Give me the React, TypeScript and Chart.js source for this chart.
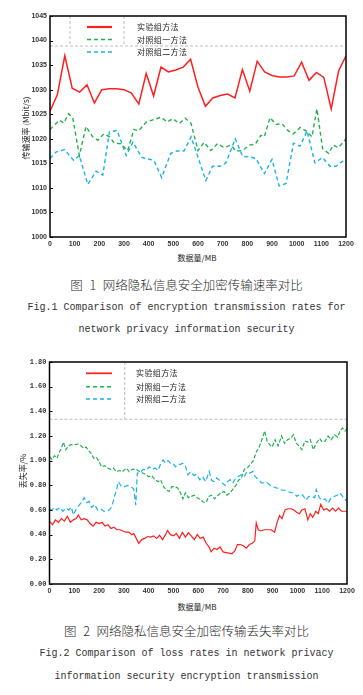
import React, { useEffect, useRef } from 'react';
import { Chart, registerables } from 'chart.js';
Chart.register(...registerables);

// ---------- Chart 1: transmission rate (Mbit/s) ----------
const rateTickLabels = ['1000', '1005', '1010', '1015', '1020', '1025', '1030', '1035', '1040', '1045'];
const expRateX = [0, 30, 60, 90, 120, 150, 180, 210, 240, 270, 300, 330, 360, 390, 420, 450, 480, 510, 540, 570, 600, 630, 660, 690, 720, 750, 780, 810, 840, 870, 900, 930, 960, 990, 1020, 1050, 1080, 1110, 1140, 1170, 1200];
const expRate = [1025.6, 1029.0, 1036.9, 1030.3, 1029.5, 1031.0, 1027.3, 1030.0, 1030.2, 1030.2, 1030.0, 1029.3, 1027.1, 1033.3, 1028.7, 1034.6, 1033.6, 1034.0, 1034.6, 1036.2, 1030.5, 1026.6, 1028.3, 1028.8, 1029.1, 1028.3, 1034.1, 1029.7, 1035.8, 1033.6, 1032.9, 1032.6, 1032.6, 1032.8, 1035.6, 1031.9, 1033.5, 1032.5, 1026.1, 1033.8, 1036.9];
const ctl1RateX = [0, 38, 56, 75, 92, 119, 146, 173, 194, 218, 241, 261, 286, 315, 340, 359, 390, 451, 475, 498, 525, 548, 572, 600, 625, 652, 679, 706, 733, 754, 781, 808, 832, 855, 869, 892, 916, 940, 964, 987, 1014, 1038, 1062, 1082, 1105, 1130, 1148, 1170, 1200];
const ctl1Rate = [1021.9, 1023.8, 1023.2, 1025.1, 1024.3, 1016.6, 1022.5, 1020.4, 1019.7, 1021.0, 1020.4, 1019.1, 1019.0, 1017.6, 1021.9, 1021.6, 1023.4, 1024.4, 1023.4, 1024.1, 1023.1, 1024.2, 1023.1, 1017.6, 1019.3, 1017.6, 1019.0, 1018.2, 1018.7, 1017.5, 1017.6, 1018.7, 1018.9, 1020.7, 1020.4, 1024.3, 1022.9, 1023.1, 1021.7, 1021.0, 1022.3, 1021.6, 1020.4, 1026.1, 1018.0, 1017.0, 1018.7, 1018.2, 1020.0];
const ctl2RateX = [0, 24, 58, 96, 119, 153, 187, 214, 241, 272, 309, 336, 372, 421, 453, 489, 512, 543, 572, 632, 659, 689, 713, 751, 781, 811, 835, 869, 900, 929, 957, 987, 1014, 1042, 1074, 1105, 1135, 1159, 1200];
const ctl2Rate = [1016.0, 1017.3, 1017.8, 1015.6, 1016.6, 1010.7, 1013.4, 1012.6, 1021.4, 1021.7, 1016.6, 1019.3, 1016.2, 1015.6, 1012.1, 1017.0, 1017.5, 1017.5, 1020.4, 1011.5, 1014.4, 1014.4, 1015.1, 1020.0, 1016.4, 1016.3, 1016.0, 1012.9, 1015.8, 1010.4, 1010.9, 1019.1, 1018.5, 1021.6, 1015.1, 1016.2, 1014.4, 1014.4, 1015.9];

// ---------- Chart 2: loss rate (%) ----------
const lossTickLabels = ['0.00', '0.20', '0.40', '0.60', '0.80', '1.00', '1.20', '1.40', '1.60', '1.80'];
const expLossX = [0, 12, 24, 36, 48, 60, 72, 84, 96, 108, 116, 128, 140, 152, 164, 176, 188, 200, 212, 224, 236, 248, 260, 272, 284, 296, 308, 320, 332, 340, 350, 360, 372, 384, 396, 408, 420, 432, 444, 456, 468, 476, 488, 500, 512, 524, 536, 548, 560, 572, 584, 596, 608, 620, 632, 644, 652, 664, 676, 688, 700, 712, 724, 736, 748, 758, 770, 782, 794, 806, 818, 828, 834, 842, 852, 866, 880, 894, 908, 918, 928, 938, 950, 962, 974, 986, 998, 1008, 1018, 1030, 1042, 1052, 1062, 1074, 1084, 1094, 1106, 1118, 1130, 1142, 1154, 1166, 1178, 1190, 1200];
const expLoss = [0.51, 0.48, 0.52, 0.50, 0.53, 0.51, 0.55, 0.50, 0.52, 0.53, 0.56, 0.52, 0.53, 0.52, 0.49, 0.47, 0.50, 0.49, 0.50, 0.47, 0.48, 0.45, 0.46, 0.44, 0.44, 0.43, 0.42, 0.42, 0.40, 0.41, 0.37, 0.33, 0.36, 0.37, 0.385, 0.38, 0.39, 0.37, 0.395, 0.36, 0.40, 0.435, 0.40, 0.39, 0.41, 0.37, 0.42, 0.38, 0.415, 0.39, 0.36, 0.40, 0.37, 0.38, 0.33, 0.30, 0.26, 0.29, 0.28, 0.30, 0.26, 0.255, 0.25, 0.245, 0.27, 0.32, 0.32, 0.31, 0.29, 0.32, 0.33, 0.35, 0.495, 0.44, 0.43, 0.44, 0.44, 0.44, 0.42, 0.50, 0.555, 0.53, 0.60, 0.61, 0.61, 0.60, 0.58, 0.57, 0.60, 0.61, 0.52, 0.57, 0.54, 0.59, 0.57, 0.645, 0.60, 0.61, 0.59, 0.615, 0.59, 0.615, 0.59, 0.59, 0.59];
const ctl1LossX = [0, 10, 20, 30, 40, 48, 56, 66, 76, 88, 100, 115, 128, 138, 148, 158, 168, 178, 188, 198, 210, 222, 234, 246, 258, 270, 282, 294, 310, 322, 334, 350, 364, 376, 390, 400, 412, 424, 438, 448, 460, 470, 482, 494, 504, 516, 528, 538, 548, 560, 572, 584, 596, 608, 620, 632, 642, 654, 666, 680, 692, 704, 716, 728, 740, 752, 762, 774, 786, 798, 810, 822, 834, 846, 858, 868, 878, 888, 898, 910, 922, 936, 948, 960, 972, 984, 996, 1006, 1018, 1030, 1042, 1052, 1064, 1076, 1090, 1100, 1112, 1124, 1136, 1150, 1162, 1172, 1182, 1192, 1200];
const ctl1Loss = [1.035, 1.01, 1.04, 1.02, 1.07, 1.10, 1.15, 1.09, 1.12, 1.13, 1.13, 1.135, 1.12, 1.10, 1.11, 1.08, 1.06, 1.02, 1.03, 1.00, 0.95, 0.96, 0.94, 0.93, 0.94, 0.91, 0.92, 0.91, 0.94, 0.91, 0.93, 0.93, 0.91, 0.90, 0.886, 0.87, 0.88, 0.85, 0.83, 0.845, 0.79, 0.765, 0.75, 0.79, 0.79, 0.78, 0.74, 0.69, 0.74, 0.70, 0.71, 0.72, 0.70, 0.685, 0.665, 0.66, 0.71, 0.72, 0.69, 0.72, 0.74, 0.75, 0.72, 0.74, 0.77, 0.80, 0.84, 0.86, 0.93, 0.94, 0.97, 1.00, 1.07, 1.11, 1.18, 1.24, 1.16, 1.13, 1.11, 1.17, 1.12, 1.20, 1.14, 1.17, 1.18, 1.21, 1.14, 1.12, 1.09, 1.16, 1.15, 1.17, 1.09, 1.14, 1.18, 1.15, 1.16, 1.20, 1.17, 1.21, 1.19, 1.24, 1.265, 1.24, 1.26];
const ctl2LossX = [0, 10, 20, 30, 42, 54, 66, 78, 88, 96, 106, 116, 128, 140, 150, 160, 170, 182, 194, 206, 218, 230, 242, 252, 262, 270, 278, 290, 302, 316, 328, 340, 348, 354, 366, 378, 390, 402, 414, 426, 438, 448, 458, 468, 478, 488, 498, 508, 518, 528, 538, 548, 558, 570, 582, 594, 606, 618, 630, 644, 654, 664, 674, 686, 696, 708, 718, 728, 740, 752, 762, 774, 786, 796, 808, 820, 830, 842, 854, 866, 878, 890, 902, 914, 926, 938, 950, 962, 974, 986, 998, 1010, 1022, 1034, 1046, 1058, 1070, 1076, 1088, 1100, 1112, 1124, 1136, 1148, 1160, 1170, 1182, 1194, 1200];
const ctl2Loss = [0.61, 0.60, 0.62, 0.60, 0.62, 0.59, 0.615, 0.60, 0.625, 0.56, 0.60, 0.63, 0.66, 0.70, 0.66, 0.67, 0.62, 0.645, 0.60, 0.61, 0.59, 0.59, 0.60, 0.63, 0.71, 0.76, 0.83, 0.79, 0.79, 0.80, 0.79, 0.77, 0.64, 0.90, 0.90, 0.93, 0.92, 0.95, 0.93, 0.94, 0.92, 0.975, 1.005, 0.98, 1.00, 0.98, 0.98, 0.95, 0.97, 0.97, 0.98, 0.96, 0.886, 0.91, 0.88, 0.89, 0.846, 0.87, 0.83, 0.913, 0.84, 0.83, 0.86, 0.84, 0.82, 0.80, 0.83, 0.846, 0.82, 0.86, 0.873, 0.886, 0.87, 0.91, 0.90, 0.913, 0.87, 0.85, 0.82, 0.82, 0.82, 0.80, 0.79, 0.78, 0.775, 0.76, 0.76, 0.75, 0.74, 0.74, 0.71, 0.73, 0.72, 0.68, 0.71, 0.71, 0.70, 0.765, 0.70, 0.68, 0.69, 0.655, 0.70, 0.71, 0.72, 0.74, 0.71, 0.68, 0.69];

const xTickLabels = ['0', '100', '200', '300', '400', '500', '600', '700', '800', '900', '1000', '1100', '1200'];
const seriesNames = ['实验组方法', '对照组一方法', '对照组二方法'];

const RED = '#ff1f1f';
const GREEN = '#22b14c';
const BLUE = '#19b2ea';

const pts = (xs: number[], ys: number[]) => xs.map((x, i) => ({ x, y: ys[i] }));

type Decor = {
  vLines: number[];
  hLineY: number;
  rows: number[];
  sampleX: [number, number];
  textX: number;
};

function decorPlugin(d: Decor, widths: number[]) {
  const styles = [
    { color: RED, dash: [] as number[], width: 2.2 },
    { color: GREEN, dash: [4, 3], width: 1.5 },
    { color: BLUE, dash: [4, 3], width: 1.5 },
  ];
  return {
    id: 'decor',
    beforeDatasetsDraw(chart: any) {
      const { ctx, chartArea: a } = chart;
      ctx.save();
      ctx.strokeStyle = '#bdbdbd';
      ctx.lineWidth = 1;
      ctx.setLineDash([3, 2]);
      ctx.beginPath();
      ctx.moveTo(a.left, d.hLineY);
      ctx.lineTo(a.right, d.hLineY);
      d.vLines.forEach((x) => {
        ctx.moveTo(x, a.top);
        ctx.lineTo(x, d.hLineY);
      });
      ctx.stroke();
      ctx.restore();
    },
    afterDatasetsDraw(chart: any) {
      const { ctx, chartArea: a } = chart;
      ctx.save();
      const ys = chart.scales.y;
      ctx.strokeStyle = '#000';
      ctx.lineWidth = 1;
      ctx.setLineDash([]);
      ctx.beginPath();
      ys.ticks.forEach((t: any) => {
        const py = Math.round(ys.getPixelForValue(t.value)) + 0.5;
        ctx.moveTo(a.left, py);
        ctx.lineTo(a.left + 3, py);
      });
      ctx.stroke();
      ctx.lineWidth = 1.5;
      ctx.strokeRect(a.left, a.top, a.right - a.left, a.bottom - a.top);
      seriesNames.forEach((name, i) => {
        const s = styles[i];
        ctx.strokeStyle = s.color;
        ctx.lineWidth = s.width * widths[i];
        ctx.setLineDash(s.dash);
        ctx.beginPath();
        ctx.moveTo(d.sampleX[0], d.rows[i]);
        ctx.lineTo(d.sampleX[1], d.rows[i]);
        ctx.stroke();
        ctx.setLineDash([]);
        ctx.fillStyle = '#222';
        ctx.font = '8px "Noto Sans CJK SC"';
        (ctx as any).letterSpacing = '0.4px';
        ctx.textBaseline = 'middle';
        ctx.textAlign = 'left';
        ctx.fillText(name, d.textX, d.rows[i]);
      });
      ctx.restore();
    },
  };
}

function makeConfig(opts: {
  datasets: any[];
  yMin: number;
  yMax: number;
  yStep: number;
  yLabels: string[];
  yWidth: number;
  xHeight: number;
  padTop: number;
  padRight: number;
  yFont: any;
  decor: Decor;
  legendWidths: number[];
}) {
  return {
    type: 'line' as const,
    data: { datasets: opts.datasets },
    plugins: [decorPlugin(opts.decor, opts.legendWidths)],
    options: {
      animation: false as const,
      responsive: false,
      devicePixelRatio: 1,
      layout: { padding: { left: 0, right: opts.padRight, top: opts.padTop, bottom: 0 } },
      plugins: { legend: { display: false }, tooltip: { enabled: false } },
      elements: { point: { radius: 0 }, line: { tension: 0 } },
      scales: {
        x: {
          type: 'linear' as const,
          min: 0,
          max: 1200,
          ticks: {
            stepSize: 100,
            autoSkip: false,
            maxRotation: 0,
            padding: 3,
            color: '#333',
            font: { family: 'Liberation Sans', size: 7, weight: 'bold' as const },
            callback: (v: number) => xTickLabels[Math.round(v / 100)] ?? '',
          },
          grid: { display: false, drawTicks: false, tickLength: 0 },
          border: { display: false },
          afterFit: (s: any) => {
            s.height = opts.xHeight;
          },
        },
        y: {
          type: 'linear' as const,
          min: opts.yMin,
          max: opts.yMax,
          ticks: {
            stepSize: opts.yStep,
            autoSkip: false,
            padding: 3,
            color: '#333',
            font: opts.yFont,
            callback: (v: number) => opts.yLabels[Math.round((v - opts.yMin) / opts.yStep)] ?? '',
          },
          grid: { display: false, drawTicks: false, tickLength: 0 },
          border: { display: false },
          afterFit: (s: any) => {
            s.width = opts.yWidth;
          },
        },
      },
    },
  };
}

const txt = (extra: React.CSSProperties): React.CSSProperties => ({
  position: 'absolute',
  whiteSpace: 'pre',
  lineHeight: 1,
  transform: 'translate(-50%, -50%)',
  ...extra,
});

export default function App() {
  const c1 = useRef<HTMLCanvasElement>(null);
  const c2 = useRef<HTMLCanvasElement>(null);

  useEffect(() => {
    const ch1 = new Chart(
      c1.current!,
      makeConfig({
        datasets: [
          { data: pts(expRateX, expRate), borderColor: RED, borderWidth: 1.5, fill: false },
          { data: pts(ctl1RateX, ctl1Rate), borderColor: GREEN, borderWidth: 1.4, borderDash: [4, 3], fill: false },
          { data: pts(ctl2RateX, ctl2Rate), borderColor: BLUE, borderWidth: 1.4, borderDash: [4, 3], fill: false },
        ],
        yMin: 1000,
        yMax: 1045,
        yStep: 5,
        yLabels: rateTickLabels,
        yWidth: 50,
        xHeight: 13,
        padTop: 16,
        padRight: 17,
        yFont: { family: 'Liberation Sans', size: 7, weight: 'bold' },
        decor: { vLines: [70, 124], hLineY: 46, rows: [27, 39.5, 52], sampleX: [87, 112], textX: 137 },
        legendWidths: [1, 1, 1],
      }) as any
    );
    const ch2 = new Chart(
      c2.current!,
      makeConfig({
        datasets: [
          { data: pts(expLossX, expLoss), borderColor: RED, borderWidth: 1.2, fill: false },
          { data: pts(ctl1LossX, ctl1Loss), borderColor: GREEN, borderWidth: 1.2, borderDash: [4, 2], fill: false },
          { data: pts(ctl2LossX, ctl2Loss), borderColor: BLUE, borderWidth: 1.2, borderDash: [5, 3], fill: false },
        ],
        yMin: 0,
        yMax: 1.8,
        yStep: 0.2,
        yLabels: lossTickLabels,
        yWidth: 49.5,
        xHeight: 13,
        padTop: 12,
        padRight: 16,
        yFont: { family: 'Liberation Mono', size: 7, weight: 'bold' },
        decor: { vLines: [124.7], hLineY: 69.3, rows: [23.3, 36.7, 49], sampleX: [86, 112], textX: 136 },
        legendWidths: [0.8, 0.9, 0.9],
      }) as any
    );
    return () => {
      ch1.destroy();
      ch2.destroy();
    };
  }, []);

  const cjk = '"Noto Sans CJK SC", sans-serif';
  const mono = '"Liberation Mono", monospace';

  return (
    <div style={{ position: 'absolute', left: 0, top: 0, width: 363, height: 695, background: '#fff', overflow: 'hidden' }}>
      <canvas ref={c1} width={363} height={250} style={{ position: 'absolute', left: 0, top: 0, width: 363, height: 250 }} />
      <canvas ref={c2} width={363} height={247} style={{ position: 'absolute', left: 0, top: 350, width: 363, height: 247 }} />

      <div style={txt({ left: 26, top: 128, fontFamily: cjk, fontSize: 8, color: '#222', transform: 'translate(-50%, -50%) rotate(-90deg)' })}>传输速率 (Mbit/s)</div>
      <div style={txt({ left: 197, top: 258, fontFamily: cjk, fontSize: 8, color: '#222' })}>数据量/MB</div>
      <div style={txt({ left: 186.5, top: 285, fontFamily: cjk, fontSize: 12.5, color: '#2a2a2a', fontWeight: 300, wordSpacing: 4 })}>图 1 网络隐私信息安全加密传输速率对比</div>
      <div style={txt({ left: 186.5, top: 308, fontFamily: mono, fontSize: 10, color: '#333' })}>Fig.1 Comparison of encryption transmission rates for</div>
      <div style={txt({ left: 186.5, top: 330, fontFamily: mono, fontSize: 10, color: '#333' })}>network privacy information security</div>

      <div style={txt({ left: 23, top: 471, fontFamily: cjk, fontSize: 8, color: '#222', transform: 'translate(-50%, -50%) rotate(-90deg)' })}>丢失率/%</div>
      <div style={txt({ left: 197, top: 607, fontFamily: cjk, fontSize: 8, color: '#222' })}>数据量/MB</div>
      <div style={txt({ left: 186.5, top: 631, fontFamily: cjk, fontSize: 12.5, color: '#2a2a2a', fontWeight: 300, wordSpacing: 4 })}>图 2 网络隐私信息安全加密传输丢失率对比</div>
      <div style={txt({ left: 186.5, top: 654, fontFamily: mono, fontSize: 10, color: '#333' })}>Fig.2 Comparison of loss rates in network privacy</div>
      <div style={txt({ left: 186.5, top: 677, fontFamily: mono, fontSize: 10, color: '#333' })}>information security encryption transmission</div>
    </div>
  );
}
